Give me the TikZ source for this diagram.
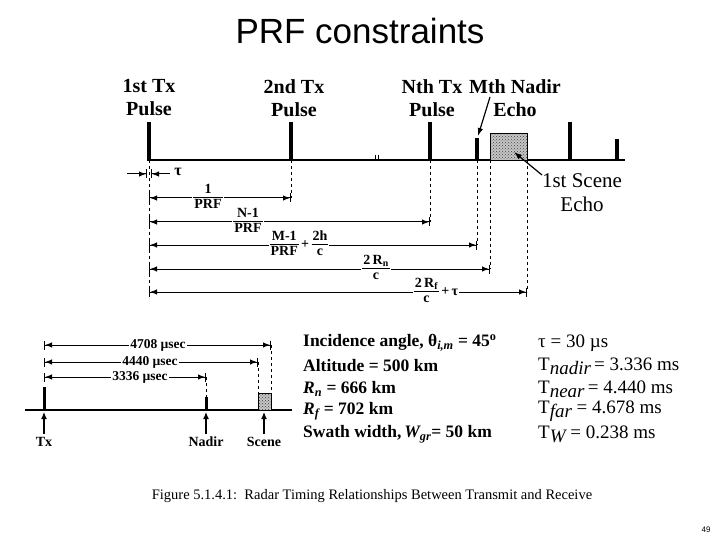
\documentclass[tikz,border=0pt]{standalone}
\usepackage{fontspec}
\setmainfont{Liberation Serif}
\newfontfamily\titlefont{Liberation Sans}
\usetikzlibrary{arrows.meta,patterns}
\newcommand{\fsz}[1]{\fontsize{#1}{#1}\selectfont}
\newcommand{\frc}[2]{\renewcommand{\arraystretch}{1.0}\begin{tabular}[c]{@{\hspace{1pt}}c@{\hspace{1pt}}}#1\\[-1pt]\hline\rule{0pt}{11pt}#2\end{tabular}}
\begin{document}
\begin{tikzpicture}[x=1pt,y=-1pt,
  toplab/.style={font=\bfseries\fontsize{20}{23}\selectfont,align=center,inner sep=0pt},
  scenelab/.style={font=\fontsize{21}{24}\selectfont,align=center,inner sep=0pt},
  pulse/.style={line width=4pt},
  spulse/.style={line width=3pt},
  tline/.style={line width=1.2pt},
  vdash/.style={line width=0.9pt,dash pattern=on 3pt off 3pt},
  dim/.style={line width=1pt,{Bar[width=9pt,line width=1pt]Latex[length=7pt,width=5.5pt]}-{Latex[length=7pt,width=5.5pt]Bar[width=9pt,line width=1pt]}},
  dimlab/.style={fill=white,inner sep=1pt,font=\bfseries\fsz{14}},
  smlab/.style={fill=white,inner sep=1pt,font=\bfseries\fsz{13.5}},
  param/.style={anchor=west,inner sep=0pt,font=\bfseries\fsz{17.5}},
  rparam/.style={anchor=west,inner sep=0pt,font=\fsz{19}},
  pointer/.style={line width=1.2pt,-{Latex[length=8pt,width=5.5pt]}}
]
\useasboundingbox (0,0) rectangle (720,540);

% title
\node[font=\titlefont\fsz{35}] (title) at (360,31) {PRF constraints};

% ---- upper timing diagram ----
\draw[tline] (147,160) -- (625,160);
\draw[line width=0.8pt] (375,155) -- (375,161) (378,155) -- (378,161);
\draw[pulse] (149,160) -- (149,122);
\draw[pulse] (291,160) -- (291,122);
\draw[pulse] (430,160) -- (430,122);
\draw[pulse] (477,160) -- (477,138);
\draw[pulse] (570,160) -- (570,122);
\draw[pulse] (617,160) -- (617,139);
\fill[gray!45] (490,133) rectangle (527,160);
\fill[pattern=crosshatch dots,pattern color=black!75] (490,133) rectangle (527,160);
\draw[line width=0.8pt] (490,133) rectangle (527,160);

\node[toplab] (l1) at (149,98) {1st Tx\\Pulse};
\node[toplab] (l2) at (294,98) {2nd Tx\\Pulse};
\node[toplab] (l3) at (432,98) {Nth Tx\\Pulse};
\node[toplab] (l4) at (515,98) {Mth Nadir\\Echo};
\node[scenelab] (l5) at (582,193) {1st Scene\\Echo};

\coordinate (nadirtail) at (490,97);
\coordinate (nadirhead) at (478,136);
\draw[pointer] (nadirtail) -- (nadirhead);
\coordinate (scenetail) at (542,175);
\coordinate (scenehead) at (514,152);
\draw[pointer] (scenetail) -- (scenehead);

% dashed verticals
\draw[vdash] (149,160) -- (149,298);
\draw[vdash] (291,160) -- (291,198);
\draw[vdash] (430,160) -- (430,222);
\draw[vdash] (477,160) -- (477,245);
\draw[vdash] (490,160) -- (490,269);
\draw[vdash] (527,160) -- (527,292);

% tau
\coordinate (ta0) at (127,174); \coordinate (ta1) at (147,174);
\coordinate (tb0) at (151,174); \coordinate (tb1) at (170,174);
\draw[line width=1pt,-{Latex[length=7pt,width=5.5pt]Bar[width=9pt,line width=1pt]}] (ta0) -- (ta1);
\draw[line width=1pt,{Bar[width=9pt,line width=1pt]Latex[length=7pt,width=5.5pt]}-] (tb0) -- (tb1);
\node[font=\bfseries\fsz{16},inner sep=0pt] (tau) at (178,172) {τ};

% dimension rows
\coordinate (r1a) at (149,198); \coordinate (r1b) at (291,198);
\draw[dim] (r1a) -- (r1b);
\node[dimlab] (f1) at (208,198) {\frc{1}{PRF}};

\coordinate (r2a) at (149,222); \coordinate (r2b) at (430,222);
\draw[dim] (r2a) -- (r2b);
\node[dimlab] (f2) at (248,222) {\frc{N-1}{PRF}};

\coordinate (r3a) at (149,245); \coordinate (r3b) at (477,245);
\draw[dim] (r3a) -- (r3b);
\node[dimlab] (f3) at (299,245) {\frc{M-1}{PRF}\,+\,\frc{2h}{c}};

\coordinate (r4a) at (149,269); \coordinate (r4b) at (490,269);
\draw[dim] (r4a) -- (r4b);
\node[dimlab] (f4) at (376,269) {\frc{2\,R\textsubscript{n}}{c}};

\coordinate (r5a) at (149,292); \coordinate (r5b) at (527,292);
\draw[dim] (r5a) -- (r5b);
\node[dimlab] (f5) at (436,292) {\frc{2\,R\textsubscript{f}}{c}\,+\,τ};

% ---- lower example diagram ----
\draw[tline] (25,410) -- (292,410);
\draw[spulse] (44,410) -- (44,387);
\draw[spulse] (206,410) -- (206,397);
\fill[gray!45] (258,393) rectangle (271,410);
\fill[pattern=crosshatch dots,pattern color=black!75] (258,393) rectangle (271,410);
\draw[line width=0.8pt] (258,393) rectangle (271,410);

\draw[vdash] (206,377) -- (206,397);
\draw[vdash] (258,362) -- (258,393);
\draw[vdash] (271,345) -- (271,393);

\coordinate (b1a) at (44,345); \coordinate (b1b) at (271,345);
\draw[dim] (b1a) -- (b1b);
\node[smlab] (d1) at (158,345) {4708 µsec};
\coordinate (b2a) at (44,362); \coordinate (b2b) at (258,362);
\draw[dim] (b2a) -- (b2b);
\node[smlab] (d2) at (150,362) {4440 µsec};
\coordinate (b3a) at (44,377); \coordinate (b3b) at (206,377);
\draw[dim] (b3a) -- (b3b);
\node[smlab] (d3) at (140,377) {3336 µsec};

\node[font=\bfseries\fsz{14}] (tx) at (44,442) {Tx};
\node[font=\bfseries\fsz{14}] (nadir) at (206,442) {Nadir};
\node[font=\bfseries\fsz{14}] (scene) at (264,442) {Scene};
\coordinate (tx0) at (44,412); \coordinate (na0) at (206,412); \coordinate (sc0) at (264,412);
\draw[line width=1.2pt,-{Latex[length=7pt,width=6pt]}] (tx.north) -- (tx0);
\draw[line width=1.2pt,-{Latex[length=7pt,width=6pt]}] (nadir.north) -- (na0);
\draw[line width=1.2pt,-{Latex[length=7pt,width=6pt]}] (scene.north) -- (sc0);

% parameters
\node[param] (p1) at (303,343) {Incidence angle, θ\textsubscript{\itshape i,m} = 45\textsuperscript{o}};
\node[param] (p2) at (303,366) {Altitude = 500 km};
\node[param] (p3) at (303,389) {\textit{R}\textsubscript{\itshape n} = 666 km};
\node[param] (p4) at (303,411) {\textit{R}\textsubscript{\itshape f} = 702 km};
\node[param] (p5) at (303,434) {Swath width,\,\textit{W}\kern-1pt\textsubscript{\itshape gr}= 50 km};

\node[rparam] (q1) at (538,343) {τ = 30 µs};
\node[rparam] (q2) at (538,366) {T\raisebox{-4pt}{\itshape nadir}\,= 3.336 ms};
\node[rparam] (q3) at (538,389) {T\raisebox{-4pt}{\itshape near}\,= 4.440 ms};
\node[rparam] (q4) at (538,411) {T\raisebox{-4pt}{\itshape far}\ = 4.678 ms};
\node[rparam] (q5) at (538,434) {T\raisebox{-4pt}{\itshape W}\ = 0.238 ms};

% caption
\node[font=\fsz{14.5}] (cap) at (372,496) {Figure 5.1.4.1:\ \ Radar Timing Relationships Between Transmit and Receive};
\node[font=\titlefont\fsz{8}] (pg) at (706,530) {49};
\end{tikzpicture}
\end{document}
